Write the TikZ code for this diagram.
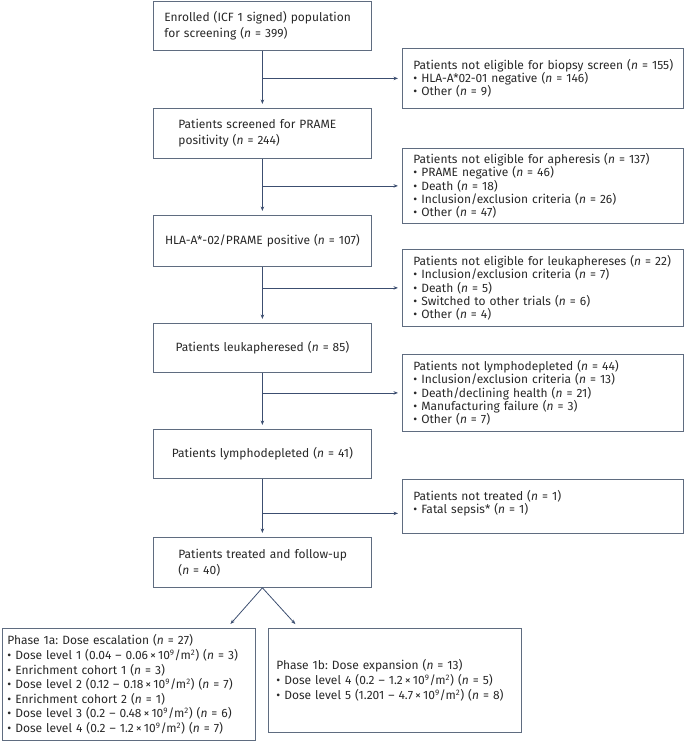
\documentclass[tikz,border=0pt]{standalone}
\usepackage{fontspec}
\setmainfont{Fira Sans}
\usetikzlibrary{arrows.meta}
\definecolor{boxc}{RGB}{95,108,128}
\definecolor{arrc}{RGB}{60,78,112}
\definecolor{txtc}{RGB}{40,40,40}
\newcommand{\nn}{\textit{n}}
\newcommand{\tnine}{\,×\,10\textsuperscript{9}/m\textsuperscript{2}}
\frenchspacing
\tikzset{
  box/.style={draw=boxc, line width=0.8pt, inner xsep=4pt, inner ysep=0pt,
    align=left, anchor=north west, text=txtc},
  lbox/.style={box, text width=210pt, font=\fontsize{12}{16}\selectfont},
  cbox/.style={lbox, align=center},
  rbox/.style={box, text width=273pt, font=\fontsize{12}{13.3}\selectfont},
  arr/.style={draw=arrc, line width=0.8pt, -{Stealth[length=4.5pt,width=3.5pt]}, shorten >=4pt},
}
\begin{document}
\begin{tikzpicture}[x=1pt,y=-1pt]
\useasboundingbox (0,0) rectangle (685,742);
% left column
\node[lbox, minimum height=49pt] (L1) at (153,1)
  {\leftskip=7pt Enrolled (ICF 1 signed) population\\for screening (\nn{} = 399)\par};
\node[lbox, minimum height=50pt] (L2) at (153,108)
  {\leftskip=21pt Patients screened for PRAME\\positivity (\nn{} = 244)\par};
\node[cbox, minimum height=51pt] (L3) at (153,215)
  {HLA-A*-02/PRAME positive (\nn{} = 107)};
\node[cbox, minimum height=49pt] (L4) at (153,323)
  {Patients leukapheresed (\nn{} = 85)};
\node[cbox, minimum height=49pt] (L5) at (153,429)
  {Patients lymphodepleted (\nn{} = 41)};
\node[lbox, minimum height=50pt] (L6) at (153,537)
  {\leftskip=21pt Patients treated and follow-up\\(\nn{} = 40)\par};
% right column
\node[rbox, minimum height=60pt] (R1) at (402,48)
  {\leftskip=7pt Patients not eligible for biopsy screen (\nn{} = 155)\\
   • HLA-A*02-01 negative (\nn{} = 146)\\
   • Other (\nn{} = 9)\par};
\node[rbox, minimum height=75pt] (R2) at (402,148)
  {\leftskip=7pt Patients not eligible for apheresis (\nn{} = 137)\\
   • PRAME negative (\nn{} = 46)\\
   • Death (\nn{} = 18)\\
   • Inclusion/exclusion criteria (\nn{} = 26)\\
   • Other (\nn{} = 47)\par};
\node[rbox, minimum height=77pt] (R3) at (402,249)
  {\leftskip=7pt Patients not eligible for leukaphereses (\nn{} = 22)\\
   • Inclusion/exclusion criteria (\nn{} = 7)\\
   • Death (\nn{} = 5)\\
   • Switched to other trials (\nn{} = 6)\\
   • Other (\nn{} = 4)\par};
\node[rbox, minimum height=77pt] (R4) at (402,354)
  {\leftskip=7pt Patients not lymphodepleted (\nn{} = 44)\\
   • Inclusion/exclusion criteria (\nn{} = 13)\\
   • Death/declining health (\nn{} = 21)\\
   • Manufacturing failure (\nn{} = 3)\\
   • Other (\nn{} = 7)\par};
\node[rbox, minimum height=54pt] (R5) at (402,479)
  {\leftskip=7pt Patients not treated (\nn{} = 1)\\
   • Fatal sepsis* (\nn{} = 1)\par\vspace{7pt}};
% bottom boxes
\node[box, text width=245.5pt, minimum height=112pt, font=\fontsize{12}{14.6}\selectfont] (BL) at (1.5,628)
  {\leftskip=1.5pt Phase 1a: Dose escalation (\nn{} = 27)\\
   • Dose level 1 (0.04 – 0.06\tnine) (\nn{} = 3)\\
   • Enrichment cohort 1 (\nn{} = 3)\\
   • Dose level 2 (0.12 – 0.18\tnine) (\nn{} = 7)\\
   • Enrichment cohort 2 (\nn{} = 1)\\
   • Dose level 3 (0.2 – 0.48\tnine) (\nn{} = 6)\\
   • Dose level 4 (0.2 – 1.2\tnine) (\nn{} = 7)\par};
\node[box, text width=245pt, minimum height=104pt, font=\fontsize{12}{15}\selectfont] (BR) at (268,628)
  {\leftskip=4pt Phase 1b: Dose expansion (\nn{} = 13)\\
   • Dose level 4 (0.2 – 1.2\tnine) (\nn{} = 5)\\
   • Dose level 5 (1.201 – 4.7\tnine) (\nn{} = 8)\par};
% connectors
\draw[arr] (L1.south) -- (L2.north);
\draw[arr] (L2.south) -- (L3.north);
\draw[arr] (L3.south) -- (L4.north);
\draw[arr] (L4.south) -- (L5.north);
\draw[arr] (L5.south) -- (L6.north);
\coordinate (c5) at ([yshift=-7pt]R5.west);
\draw[arr] (L1.south |- R1.west) -- (R1.west);
\draw[arr] (L2.south |- R2.west) -- (R2.west);
\draw[arr] (L3.south |- R3.west) -- (R3.west);
\draw[arr] (L4.south |- R4.west) -- (R4.west);
\draw[arr] (L5.south |- c5) -- (c5);
\coordinate (ta) at ([xshift=-28pt,yshift=1pt]BL.north east);
\coordinate (tb) at ([xshift=30pt,yshift=1pt]BR.north west);
\draw[arr] (L6.south) -- (ta);
\draw[arr] (L6.south) -- (tb);
\end{tikzpicture}
\end{document}
